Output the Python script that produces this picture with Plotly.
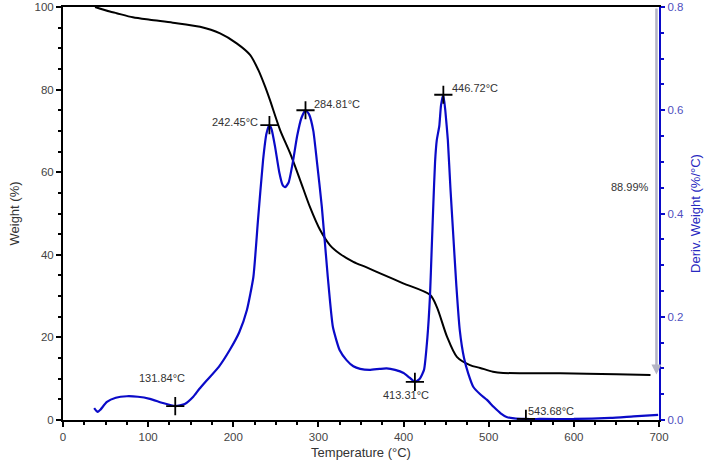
import plotly.graph_objects as go

# TGA weight curve (Temperature °C, Weight %)
tga_temp = [37.6, 55, 63, 82, 102, 129, 161, 184.5, 204, 219.7, 229.5, 237.4, 243, 255, 266.7, 278.5, 290, 302,
            313.7, 325.5, 341, 356, 372.5, 399.5, 431, 439, 451, 462.6, 478, 490, 505, 517, 584, 650, 690]
tga_weight = [100, 98.9, 98.5, 97.5, 96.9, 96.2, 95.2, 93.6, 91.2, 88.4, 84.7, 80.7, 77.5, 70.2, 64.6, 58.1, 51.6, 46,
              42.3, 40.2, 38.3, 37.0, 35.5, 33.1, 30.3, 27.4, 20.2, 15.3, 13.3, 12.6, 11.7, 11.4, 11.3, 11.1, 10.9]

# DTG derivative curve (Temperature °C, Deriv. Weight %/°C)
dtg_temp = [36.6, 39, 41, 44, 51.6, 62, 75, 88, 102, 117, 131.84, 143, 153, 160, 169, 183, 196, 207, 216, 223.6,
            229, 235, 239, 242.45, 245, 249, 254, 258, 261, 265, 270, 275, 280, 284.81, 289, 294, 298, 304,
            311, 317, 325, 333, 341, 349, 360, 372, 380, 390, 400, 407, 413.31, 419, 424, 428, 431, 433, 435,
            437, 439, 442, 444, 446.72, 449, 452, 455, 458, 462, 466, 471, 476, 482, 490, 498, 506, 514, 521,
            530, 543.68, 560, 600, 643, 670, 699]
dtg_deriv = [0.023, 0.018, 0.0155, 0.02, 0.035, 0.043, 0.046, 0.045, 0.041, 0.033, 0.027, 0.031, 0.045, 0.06,
             0.077, 0.103, 0.136, 0.17, 0.213, 0.277, 0.387, 0.504, 0.555, 0.571, 0.563, 0.53, 0.48, 0.455, 0.451,
             0.46, 0.5, 0.55, 0.585, 0.600, 0.592, 0.56, 0.504, 0.413, 0.277, 0.18, 0.135, 0.116, 0.104, 0.099,
             0.097, 0.099, 0.1, 0.097, 0.091, 0.082, 0.074, 0.08, 0.097, 0.16, 0.24, 0.33, 0.42, 0.5, 0.542,
             0.57, 0.61, 0.630, 0.6, 0.542, 0.45, 0.368, 0.26, 0.174, 0.12, 0.09, 0.064, 0.05, 0.039, 0.025,
             0.013, 0.006, 0.003, 0.002, 0.002, 0.002, 0.004, 0.007, 0.01]

# Marked peaks/valleys on DTG
mark_temp = [131.84, 242.45, 284.81, 413.31, 446.72, 543.68]
mark_deriv = [0.027, 0.571, 0.600, 0.074, 0.630, 0.002]
mark_labels = ["131.84°C", "242.45°C", "284.81°C", "413.31°C", "446.72°C", "543.68°C"]

loss_label = "88.99%"
loss_temp = 697
loss_start, loss_end = 100, 11.01

FONT = "Liberation Sans, Arial, sans-serif"

fig = go.Figure()
fig.add_trace(go.Scatter(x=tga_temp, y=tga_weight, mode="lines",
                         line=dict(color="black", width=2, shape="spline", smoothing=0.8),
                         showlegend=False, hoverinfo="skip"))
fig.add_trace(go.Scatter(x=dtg_temp, y=dtg_deriv, mode="lines", yaxis="y2",
                         line=dict(color="#0a0ac8", width=2.2, shape="spline", smoothing=0.5),
                         showlegend=False, hoverinfo="skip"))
fig.add_trace(go.Scatter(x=mark_temp, y=mark_deriv, mode="markers", yaxis="y2",
                         marker=dict(symbol="cross-thin", size=13, line=dict(color="black", width=1.8)),
                         showlegend=False, hoverinfo="skip"))

# label offsets (pixels) per marker
offsets = {
    "131.84°C": dict(xanchor="center", yanchor="middle", xshift=-13, yshift=28),
    "242.45°C": dict(xanchor="right", yanchor="middle", xshift=-9, yshift=3),
    "284.81°C": dict(xanchor="left", yanchor="middle", xshift=6, yshift=6),
    "413.31°C": dict(xanchor="center", yanchor="middle", xshift=-9, yshift=-13),
    "446.72°C": dict(xanchor="left", yanchor="middle", xshift=7, yshift=7),
    "543.68°C": dict(xanchor="left", yanchor="middle", xshift=0, yshift=8),
}
for t, d, lab in zip(mark_temp, mark_deriv, mark_labels):
    fig.add_annotation(x=t, y=d, xref="x", yref="y2", text=lab, showarrow=False,
                       font=dict(family=FONT, size=11, color="#333333"), **offsets[lab])

# weight loss bar
fig.add_annotation(x=loss_temp, y=loss_end, ax=loss_temp, ay=loss_start, xref="x", yref="y",
                   axref="x", ayref="y", showarrow=True, arrowhead=2, arrowsize=0.8, arrowwidth=2.5,
                   arrowcolor="#b4b4c4", text="")
fig.add_annotation(x=666, y=56.4, xref="x", yref="y", text=loss_label, showarrow=False,
                   font=dict(family=FONT, size=11, color="#333333"))

fig.update_layout(
    width=719, height=462,
    margin=dict(l=63, r=60, t=7, b=42, autoexpand=False),
    paper_bgcolor="white", plot_bgcolor="white",
    font=dict(family=FONT, size=11, color="#404040"),
    xaxis=dict(range=[0, 700], dtick=100, showline=True, linecolor="black", linewidth=2, mirror=True,
               automargin=False,
               ticks="outside", ticklen=5, tickwidth=1.5, tickcolor="black", showgrid=False, zeroline=False,
               minor=dict(dtick=25, ticks="outside", ticklen=3, tickcolor="black", tickwidth=1.5),
               title=dict(text="Temperature (°C)", font=dict(size=13, color="#333333"), standoff=6),
               tickfont=dict(size=11.5, color="#444444")),
    yaxis=dict(range=[0, 100], dtick=20, showline=True, linecolor="black", linewidth=2,
               automargin=False,
               ticks="outside", ticklen=5, tickwidth=1.5, tickcolor="black", showgrid=False, zeroline=False,
               minor=dict(dtick=5, ticks="outside", ticklen=3, tickcolor="black", tickwidth=1.5),
               title=dict(text="Weight (%)", font=dict(size=13, color="#333333"), standoff=12),
               tickfont=dict(size=11.5, color="#444444")),
    yaxis2=dict(range=[0, 0.8], dtick=0.2, tickformat=".1f", overlaying="y", side="right",
                automargin=False,
                showline=True, linecolor="#0a0ac8", linewidth=2.2,
                ticks="outside", ticklen=4, tickwidth=1.5, tickcolor="#0a0ac8", showgrid=False, zeroline=False,
                minor=dict(dtick=0.05, ticks="outside", ticklen=3, tickcolor="#0a0ac8", tickwidth=1.5),
                title=dict(text="Deriv. Weight (%/°C)", font=dict(size=13, color="#2828c0"), standoff=8),
                tickfont=dict(size=11.5, color="#5050c0")),
)

fig.write_html("out.html", config={"displayModeBar": False},
               post_script="document.body.style.margin='0';document.body.style.padding='0';")
